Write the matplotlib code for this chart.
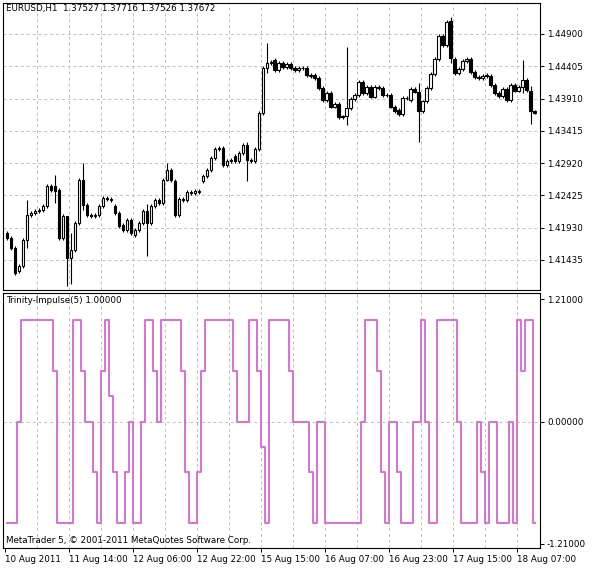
import matplotlib
matplotlib.use("Agg")
import matplotlib.pyplot as plt
import numpy as np

# hourly EURUSD candles
opens = [1.41850, 1.41774, 1.41621, 1.41264, 1.41340, 1.41748, 1.42131, 1.42156, 1.42182, 1.42207,
         1.42258, 1.42564, 1.42564, 1.42513, 1.41774, 1.42105, 1.41468, 1.41595, 1.42003, 1.42666,
         1.42284, 1.42131, 1.42105, 1.42131, 1.42258, 1.42386, 1.42370, 1.42258, 1.42156, 1.41977,
         1.41901, 1.42054, 1.41825, 1.41901, 1.42003, 1.42182, 1.42003, 1.42258, 1.42360, 1.42310,
         1.42666, 1.42819, 1.42641, 1.42131, 1.42370, 1.42360, 1.42472, 1.42462, 1.42488, 1.42641,
         1.42717, 1.42819, 1.42998, 1.43135, 1.43151, 1.42886, 1.42947, 1.43023, 1.42947, 1.43074,
         1.43202, 1.42972, 1.42947, 1.43135, 1.43686, 1.44375, 1.44451, 1.44502, 1.44349, 1.44451,
         1.44400, 1.44440, 1.44375, 1.44349, 1.44375, 1.44375, 1.44273, 1.44273, 1.44222, 1.44069,
         1.43890, 1.43992, 1.43788, 1.43824, 1.43625, 1.43635, 1.43763, 1.43900, 1.43967, 1.44171,
         1.44002, 1.44084, 1.43941, 1.44069, 1.44069, 1.43967, 1.43967, 1.43788, 1.43737, 1.43676,
         1.43916, 1.43890, 1.44053, 1.44018, 1.43722, 1.43865, 1.44069, 1.44288, 1.44512, 1.44869,
         1.44732, 1.45104, 1.44512, 1.44308, 1.44359, 1.44492, 1.44512, 1.44324, 1.44247, 1.44232,
         1.44273, 1.44257, 1.44120, 1.44002, 1.43951, 1.44058, 1.43890, 1.44120, 1.44033, 1.44084,
         1.44196, 1.44033, 1.43712]
closes = [1.41774, 1.41621, 1.41238, 1.41340, 1.41748, 1.42131, 1.42156, 1.42182, 1.42207, 1.42258,
          1.42564, 1.42513, 1.42488, 1.41774, 1.42105, 1.41468, 1.41595, 1.42003, 1.42666, 1.42284,
          1.42131, 1.42105, 1.42131, 1.42258, 1.42386, 1.42370, 1.42360, 1.42156, 1.41952, 1.41901,
          1.42054, 1.41850, 1.41901, 1.42003, 1.42182, 1.42003, 1.42258, 1.42360, 1.42310, 1.42666,
          1.42819, 1.42666, 1.42131, 1.42370, 1.42360, 1.42472, 1.42462, 1.42488, 1.42478, 1.42717,
          1.42819, 1.42998, 1.43135, 1.43151, 1.42886, 1.42947, 1.42972, 1.42947, 1.43074, 1.43202,
          1.42972, 1.42947, 1.43135, 1.43686, 1.44375, 1.44451, 1.44477, 1.44349, 1.44451, 1.44400,
          1.44440, 1.44375, 1.44349, 1.44375, 1.44375, 1.44273, 1.44257, 1.44222, 1.44069, 1.43890,
          1.43992, 1.43788, 1.43824, 1.43625, 1.43635, 1.43763, 1.43900, 1.43967, 1.44171, 1.44002,
          1.44094, 1.43941, 1.44084, 1.44084, 1.43967, 1.43967, 1.43788, 1.43712, 1.43676, 1.43916,
          1.43916, 1.44053, 1.44018, 1.43722, 1.43865, 1.44069, 1.44288, 1.44512, 1.44869, 1.44732,
          1.45089, 1.44528, 1.44308, 1.44359, 1.44492, 1.44512, 1.44324, 1.44247, 1.44232, 1.44257,
          1.44257, 1.44120, 1.44002, 1.43951, 1.44058, 1.43890, 1.44120, 1.44033, 1.44084, 1.44196,
          1.44043, 1.43712, 1.43696]
wick = 0.00030
# bars with long shadows: index -> (high, low)
long_wicks = {5: (1.42360, 1.41621), 12: (1.42743, 1.42310), 15: (1.42105, 1.41033),
              16: (1.41850, 1.41060), 19: (1.42921, 1.42200), 35: (1.42300, 1.41493),
              40: (1.42921, 1.42640), 60: (1.43250, 1.42641), 65: (1.44757, 1.44300),
              85: (1.44706, 1.43500), 103: (1.44150, 1.43237), 111: (1.45165, 1.44450),
              129: (1.44502, 1.44000), 131: (1.44100, 1.43523)}

impulse = [-1, -1, -1, 0, 1, 1, 1, 1, 1, 1, 1, 1, 0.5, -1, -1, -1, -1, 1, 1, 0.5, 0, 0,
           -0.5, -1, 0.5, 1, 0.25, -0.5, -1, -1, -0.5, 0, -1, -1, 0, 1, 1, 0.5, 0,
           1, 1, 1, 1, 1, 0.5, -0.5, -1, -1, -0.5, 0.5, 1, 1, 1, 1, 1, 1, 1, 0.5, 0, 0, 0,
           1, 1, 0.5, -0.25, -1, 1, 1, 1, 1, 1, 0.5, 0, 0, 0, 0, -0.5, -1, 0, 0,
           -1, -1, -1, -1, -1, -1, -1, -1, -1, 0, 1, 1, 1, 0.5, -0.5, -1, 0, 0,
           -0.5, -1, -1, -1, 0, 0, 1, 0, -1, -1, 1, 1, 1, 1, 1, 0, -1, -1, -1, -1,
           0, -0.5, -1, 0, 0, -1, -1, -1, 0, -1, 1, 0.5, 1, 1, -1]

price_ticks = [1.41435, 1.41930, 1.42425, 1.42920, 1.43415, 1.43910, 1.44405, 1.44900]
date_labels = ["10 Aug 2011", "11 Aug 14:00", "12 Aug 06:00", "12 Aug 22:00", "15 Aug 15:00",
               "16 Aug 07:00", "16 Aug 23:00", "17 Aug 15:00", "18 Aug 07:00"]

n = len(closes)
x = np.arange(n)
W, H = 593, 570
fig = plt.figure(figsize=(W / 100, H / 100), dpi=100)
plt.rcParams['font.family'] = ['DejaVu Sans']
fs = 6.3

ax1 = fig.add_axes([3 / W, 1 - 290 / H, 537 / W, 287 / H])
ax2 = fig.add_axes([3 / W, 1 - 548 / H, 537 / W, 255 / H])
xlim = (-1, n + 0.3)
grid = dict(color='#c0c0c0', linestyle=(0, (3, 3)), linewidth=0.7)

vgrid = [-0.5 + 8 * k for k in range(1, 18)]
for ax in (ax1, ax2):
    ax.set_xlim(*xlim)
    for v in vgrid:
        ax.axvline(v, zorder=0, **grid)
    ax.yaxis.tick_right()
    ax.tick_params(axis='y', direction='out', length=3, width=0.7, labelsize=fs, pad=2)
    for s in ax.spines.values():
        s.set_linewidth(0.8)

# candles
for i in x:
    o, c = opens[i], closes[i]
    hi, lo = long_wicks.get(i, (max(o, c) + wick, min(o, c) - wick))
    ax1.vlines(i, lo, hi, color='black', linewidth=0.8, zorder=2)
    body = max(abs(c - o), 0.00004)
    ax1.bar(i, body, bottom=min(o, c), width=0.7,
            facecolor='white' if c >= o else 'black', edgecolor='black', linewidth=0.8, zorder=3)
ax1.set_ylim(1.40975, 1.45375)
ax1.set_yticks(price_ticks)
ax1.set_yticklabels([f"{p:.5f}" for p in price_ticks])
for p in price_ticks:
    ax1.axhline(p, zorder=0, **grid)
ax1.set_xticks([])
ax1.text(0.005, 0.995, "EURUSD,H1  1.37527 1.37716 1.37526 1.37672", transform=ax1.transAxes,
         ha='left', va='top', fontsize=fs)

# indicator
imp = impulse[:n]
ax2.plot(x[:len(imp)], imp, drawstyle='steps-mid', color='#da70d6', linewidth=1.4, zorder=3)
ax2.set_ylim(-1.25, 1.27)
ax2.set_yticks([-1.21, 0, 1.21])
ax2.set_yticklabels(["-1.21000", "0.00000", "1.21000"])
ax2.axhline(0, zorder=0, **grid)
ax2.set_xticks([-0.5 + 16 * k for k in range(len(date_labels))])
ax2.set_xticklabels(date_labels, ha='left')
ax2.tick_params(axis='x', direction='out', length=3, width=0.7, labelsize=fs, pad=2)
ax2.text(0.005, 0.99, "Trinity-Impulse(5) 1.00000", transform=ax2.transAxes,
         ha='left', va='top', fontsize=fs)
ax2.text(0.005, 0.01, "MetaTrader 5, © 2001-2011 MetaQuotes Software Corp.", transform=ax2.transAxes,
         ha='left', va='bottom', fontsize=fs)

fig.savefig("out.png", dpi=100)
